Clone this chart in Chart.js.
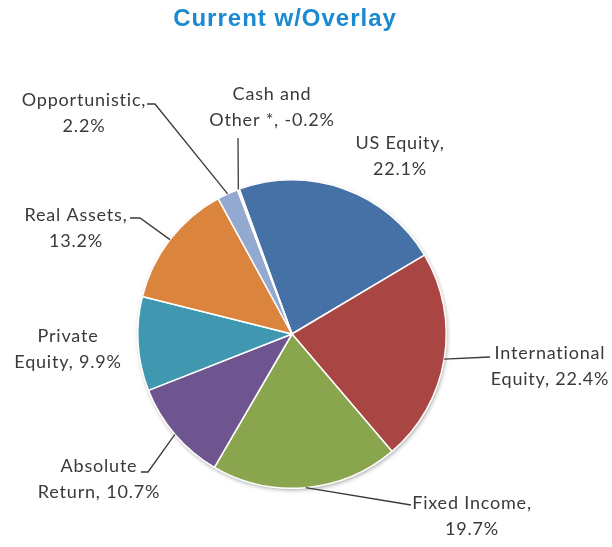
<!DOCTYPE html>
<html>
<head>
<meta charset="utf-8">
<title>Current w/Overlay</title>
<script src="https://cdn.jsdelivr.net/npm/chart.js@4.4.1/dist/chart.umd.min.js"></script>
<style>
  html, body { margin: 0; padding: 0; background: #fff; }
  #wrap { width: 612px; height: 547px; }
</style>
</head>
<body>
<div id="wrap"><canvas id="chart" width="612" height="547"></canvas></div>
<script>
// === Données ===
const categories = ["US Equity", "International Equity", "Fixed Income", "Absolute Return",
  "Private Equity", "Real Assets", "Opportunistic", "Cash and Other *"];
const allocation = [22.1, 22.4, 19.7, 10.7, 9.9, 13.2, 2.2, -0.2];
const sliceColors = ["#4571a6", "#a94543", "#89a54d", "#6f558f", "#3f98b0", "#db843d", "#94a9d0", "#f4f4f4"];

// === Étiquettes : coupure de ligne après N mots, position du texte, coudes des lignes de rappel ===
const labelBreak = [2, 1, 2, 1, 1, 2, 1, 2];
const labelPos = [[400, 143], [550, 353], [472, 503], [99, 466], [68, 336], [76, 215], [84, 100], [272, 94]];
const leaderPts = [
  null,
  [[490, 357]],
  [[411, 505]],
  [[148, 472], [141, 472]],
  null,
  [[140, 218], [130, 218]],
  [[155, 104], [147, 104]],
  [[238, 138]]
];

const TEXT = "#3a3a3a";

// === Plugin : ombre, titre, étiquettes ===
const labelsPlugin = {
  id: "labels",
  beforeDatasetsDraw(chart) {
    const arc = chart.getDatasetMeta(0).data[0];
    if (!arc) return;
    const ctx = chart.ctx;
    ctx.save();
    ctx.shadowColor = "rgba(0,0,0,0.35)";
    ctx.shadowBlur = 4;
    ctx.shadowOffsetX = 1;
    ctx.shadowOffsetY = 2;
    ctx.fillStyle = "#ffffff";
    ctx.beginPath();
    ctx.arc(arc.x, arc.y, arc.outerRadius, 0, Math.PI * 2);
    ctx.fill();
    ctx.restore();
  },
  afterDraw(chart) {
    const ctx = chart.ctx;
    const meta = chart.getDatasetMeta(0);
    ctx.save();

    // titre
    ctx.fillStyle = "#1b8ad0";
    ctx.font = "bold 24px 'Liberation Sans', Arial, sans-serif";
    ctx.letterSpacing = "1px";
    ctx.textAlign = "center";
    ctx.textBaseline = "middle";
    ctx.fillText("Current w/Overlay", 285, 19);

    // lignes de rappel
    ctx.strokeStyle = "#3a3a3a";
    ctx.lineWidth = 1.3;
    meta.data.forEach((arc, i) => {
      const pts = leaderPts[i];
      if (!pts) return;
      const mid = (arc.startAngle + arc.endAngle) / 2;
      ctx.beginPath();
      ctx.moveTo(arc.x + Math.cos(mid) * arc.outerRadius, arc.y + Math.sin(mid) * arc.outerRadius);
      pts.forEach(p => ctx.lineTo(p[0], p[1]));
      ctx.stroke();
    });

    // textes
    ctx.fillStyle = TEXT;
    ctx.font = "18px Lato, 'Open Sans', sans-serif";
    ctx.letterSpacing = "0.8px";
    meta.data.forEach((arc, i) => {
      const txt = categories[i] + ", " + allocation[i].toFixed(1) + "%";
      const words = txt.split(" ");
      const lines = [words.slice(0, labelBreak[i]).join(" "), words.slice(labelBreak[i]).join(" ")];
      lines.forEach((l, j) => ctx.fillText(l, labelPos[i][0], labelPos[i][1] + j * 26));
    });
    ctx.restore();
  }
};

new Chart(document.getElementById("chart"), {
  type: "pie",
  data: {
    labels: categories,
    datasets: [{
      data: allocation,
      backgroundColor: sliceColors,
      borderColor: "#ffffff",
      borderWidth: 1.5,
      hoverOffset: 0
    }]
  },
  options: {
    responsive: false,
    animation: false,
    rotation: -20,
    layout: { padding: { left: 137, right: 165, top: 179, bottom: 58 } },
    plugins: {
      legend: { display: false },
      title: { display: false },
      tooltip: { enabled: true }
    }
  },
  plugins: [labelsPlugin]
});
</script>
</body>
</html>
